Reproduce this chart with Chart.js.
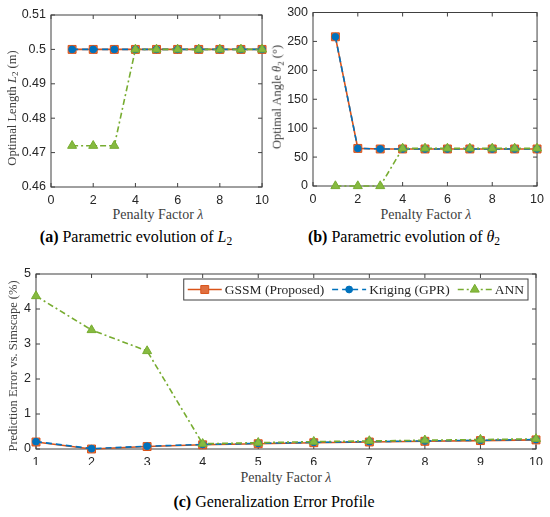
<!DOCTYPE html>
<html lang="en">
<head>
<meta charset="UTF-8">
<title>Penalty factor study</title>
<script src="https://cdn.jsdelivr.net/npm/chart.js"></script>
<style>
  html, body { margin: 0; padding: 0; background: #fff; }
  #page { position: relative; width: 550px; height: 517px; overflow: hidden; }
  canvas { position: absolute; }
  .lbl { position: absolute; white-space: nowrap; font-family: "Liberation Serif", serif;
         color: #404040; font-size: 12.5px; line-height: 1; transform: translate(-50%, -50%); }
  .xt { font-size: 14px; }
  .rot { transform: translate(-50%, -50%) rotate(-90deg); }
  .cap { color: #000; font-size: 16px; }
  sub { font-size: 0.72em; vertical-align: -0.3em; line-height: 0; }
</style>
</head>
<body>
<div id="page">
  <canvas id="chartA" width="275" height="205" style="left:0;top:0;width:275px;height:205px"></canvas>
  <canvas id="chartB" width="275" height="205" style="left:275px;top:0;width:275px;height:205px"></canvas>
  <canvas id="chartC" width="550" height="205" style="left:0;top:260px;width:550px;height:205px"></canvas>

  <div class="lbl rot" style="left:12px;top:108px">Optimal Length <i>L</i><sub>2</sub> (m)</div>
  <div class="lbl xt" style="left:158px;top:215px">Penalty Factor <i>λ</i></div>
  <div class="lbl cap" style="left:136px;top:237px"><b>(a)</b> Parametric evolution of <i>L</i><sub>2</sub></div>

  <div class="lbl rot" style="left:277px;top:97px">Optimal Angle <i>θ</i><sub>2</sub> (°)</div>
  <div class="lbl xt" style="left:426px;top:215px">Penalty Factor <i>λ</i></div>
  <div class="lbl cap" style="left:404px;top:237px"><b>(b)</b> Parametric evolution of <i>θ</i><sub>2</sub></div>

  <div class="lbl rot" style="left:13px;top:366px">Prediction Error vs. Simscape (%)</div>
  <div class="lbl xt" style="left:286px;top:478px">Penalty Factor <i>λ</i></div>
  <div class="lbl cap" style="left:274px;top:502px"><b>(c)</b> Generalization Error Profile</div>
</div>

<script>
// penalty factor values (x axis of every panel)
const lambda = [1, 2, 3, 4, 5, 6, 7, 8, 9, 10];

// (a) optimal length L2 (m)
const l2Gssm    = [0.5, 0.5, 0.5, 0.5, 0.5, 0.5, 0.5, 0.5, 0.5, 0.5];
const l2Kriging = [0.5, 0.5, 0.5, 0.5, 0.5, 0.5, 0.5, 0.5, 0.5, 0.5];
const l2Ann     = [0.472, 0.472, 0.472, 0.5, 0.5, 0.5, 0.5, 0.5, 0.5, 0.5];

// (b) optimal angle theta2 (deg)
const thetaGssm    = [258, 65, 64, 64, 64, 64, 64, 64, 64, 64];
const thetaKriging = [258, 65, 64, 64, 64, 64, 64, 64, 64, 64];
const thetaAnn     = [0, 0, 0, 65, 65, 65, 65, 65, 65, 65];

// (c) prediction error vs. Simscape (%)
const errGssm    = [0.20, 0.00, 0.07, 0.12, 0.15, 0.18, 0.20, 0.22, 0.24, 0.26];
const errKriging = [0.21, 0.01, 0.08, 0.13, 0.16, 0.19, 0.21, 0.23, 0.25, 0.27];
const errAnn     = [4.37, 3.40, 2.80, 0.15, 0.18, 0.21, 0.23, 0.25, 0.27, 0.29];

// tick labels
const topXTicks   = [0, 2, 4, 6, 8, 10];
const l2Ticks     = [0.46, 0.47, 0.48, 0.49, 0.5, 0.51];
const thetaTicks  = [0, 50, 100, 150, 200, 250, 300];
const errXTicks   = [1, 2, 3, 4, 5, 6, 7, 8, 9, 10];
const errYTicks   = [0, 1, 2, 3, 4, 5];

const seriesNames = ['GSSM (Proposed)', 'Kriging (GPR)', 'ANN'];

const TICK_FONT = { family: 'Liberation Sans, Arial, sans-serif', size: 12.5 };
const TICK_COLOR = '#262626';

const styles = [
  { borderColor: '#D95319', borderWidth: 1.6, pointStyle: 'rect', pointRadius: 5.6,
    pointBackgroundColor: '#E07040', pointBorderColor: '#D95319', pointBorderWidth: 1, order: 2 },
  { borderColor: '#0072BD', borderWidth: 1.6, borderDash: [6, 4], pointStyle: 'circle', pointRadius: 3.4,
    pointBackgroundColor: '#0072BD', pointBorderColor: '#0072BD', pointBorderWidth: 1, order: 1 },
  { borderColor: '#77AC30', borderWidth: 1.6, borderDash: [6, 3, 2, 3], pointStyle: 'triangle', pointRadius: 5.2,
    pointBackgroundColor: '#86BA40', pointBorderColor: '#77AC30', pointBorderWidth: 1, order: 0 }
];

function points(values) {
  return lambda.map((x, i) => ({ x: x, y: values[i] }));
}

function makeDatasets(lists) {
  return lists.map((vals, i) => Object.assign({
    label: seriesNames[i],
    data: points(vals),
    fill: false,
    tension: 0,
    clip: false,
    pointHoverRadius: styles[i].pointRadius
  }, styles[i]));
}

// MATLAB-style box with inward ticks
const frame = {
  id: 'frame',
  beforeDatasetsDraw(chart) {
    const { ctx, chartArea: a, scales } = chart;
    const len = 4;
    ctx.save();
    ctx.strokeStyle = '#404040';
    ctx.lineWidth = 1;
    ctx.strokeRect(a.left, a.top, a.right - a.left, a.bottom - a.top);
    ctx.beginPath();
    scales.x.ticks.forEach(t => {
      const px = scales.x.getPixelForValue(t.value);
      ctx.moveTo(px, a.bottom); ctx.lineTo(px, a.bottom - len);
      ctx.moveTo(px, a.top); ctx.lineTo(px, a.top + len);
    });
    scales.y.ticks.forEach(t => {
      const py = scales.y.getPixelForValue(t.value);
      ctx.moveTo(a.left, py); ctx.lineTo(a.left + len, py);
      ctx.moveTo(a.right, py); ctx.lineTo(a.right - len, py);
    });
    ctx.stroke();
    ctx.restore();
  }
};

function drawMarker(ctx, st, x, y) {
  const r = st.pointRadius;
  ctx.fillStyle = st.pointBackgroundColor;
  ctx.strokeStyle = st.pointBorderColor;
  ctx.lineWidth = st.pointBorderWidth;
  ctx.setLineDash([]);
  ctx.beginPath();
  if (st.pointStyle === 'rect') {
    const s = Math.SQRT1_2 * r;
    ctx.rect(x - s, y - s, 2 * s, 2 * s);
  } else if (st.pointStyle === 'circle') {
    ctx.arc(x, y, r, 0, Math.PI * 2);
  } else {
    const h = r * 0.866;
    ctx.moveTo(x, y - r);
    ctx.lineTo(x + h, y + r / 2);
    ctx.lineTo(x - h, y + r / 2);
    ctx.closePath();
  }
  ctx.fill();
  ctx.stroke();
}

// boxed horizontal legend in the top-right corner of the plot area
const boxLegend = {
  id: 'boxLegend',
  afterDatasetsDraw(chart) {
    const { ctx, chartArea: a } = chart;
    const font = '13.5px "Liberation Serif", serif';
    const sample = 34, pad = 4, gap = 8, h = 21;
    ctx.save();
    ctx.font = font;
    const widths = seriesNames.map(n => ctx.measureText(n).width);
    let total = pad;
    widths.forEach((w, i) => { total += sample + 3 + w + (i < widths.length - 1 ? gap : pad); });
    const right = a.right - 8, top = a.top + 5;
    const left = right - total;
    ctx.fillStyle = '#fff';
    ctx.fillRect(left, top, total, h);
    ctx.strokeStyle = '#404040';
    ctx.lineWidth = 1;
    ctx.strokeRect(left, top, total, h);
    let x = left + pad;
    const cy = top + h / 2;
    seriesNames.forEach((name, i) => {
      const st = styles[i];
      ctx.strokeStyle = st.borderColor;
      ctx.lineWidth = st.borderWidth;
      ctx.setLineDash(st.borderDash || []);
      ctx.beginPath();
      ctx.moveTo(x, cy); ctx.lineTo(x + sample, cy);
      ctx.stroke();
      drawMarker(ctx, st, x + sample / 2, cy);
      ctx.fillStyle = '#262626';
      ctx.font = font;
      ctx.textBaseline = 'middle';
      ctx.fillText(name, x + sample + 3, cy + 1);
      x += sample + 3 + widths[i] + gap;
    });
    ctx.restore();
  }
};

function axis(min, max, ticks, size, isX) {
  return {
    type: 'linear',
    min: min,
    max: max,
    grid: { display: false, drawTicks: false },
    border: { display: false },
    afterBuildTicks: s => { s.ticks = ticks.map(v => ({ value: v })); },
    afterFit: s => { if (isX) s.height = size; else s.width = size; },
    ticks: {
      font: TICK_FONT,
      color: TICK_COLOR,
      padding: isX ? 6 : 5,
      maxRotation: 0,
      autoSkip: false,
      callback: v => String(+v.toFixed(4))
    }
  };
}

function makeChart(id, lists, xs, ys, padding, extraPlugins) {
  return new Chart(document.getElementById(id), {
    type: 'line',
    data: { datasets: makeDatasets(lists) },
    options: {
      responsive: false,
      animation: false,
      layout: { padding: padding, autoPadding: false },
      plugins: { legend: { display: false }, tooltip: { enabled: false } },
      scales: { x: xs, y: ys }
    },
    plugins: [frame].concat(extraPlugins || [])
  });
}

makeChart('chartA', [l2Gssm, l2Kriging, l2Ann],
  axis(0, 10, topXTicks, 18, true), axis(0.46, 0.51, l2Ticks, 51, false),
  { top: 15, right: 10, left: 0, bottom: 0 });

makeChart('chartB', [thetaGssm, thetaKriging, thetaAnn],
  axis(0, 10, topXTicks, 19, true), axis(0, 300, thetaTicks, 38, false),
  { top: 11, right: 10, left: 0, bottom: 0 });

makeChart('chartC', [errGssm, errKriging, errAnn],
  axis(1, 10, errXTicks, 16, true), axis(0, 5, errYTicks, 36, false),
  { top: 14, right: 14, left: 0, bottom: 0 }, [boxLegend]);
</script>
</body>
</html>
